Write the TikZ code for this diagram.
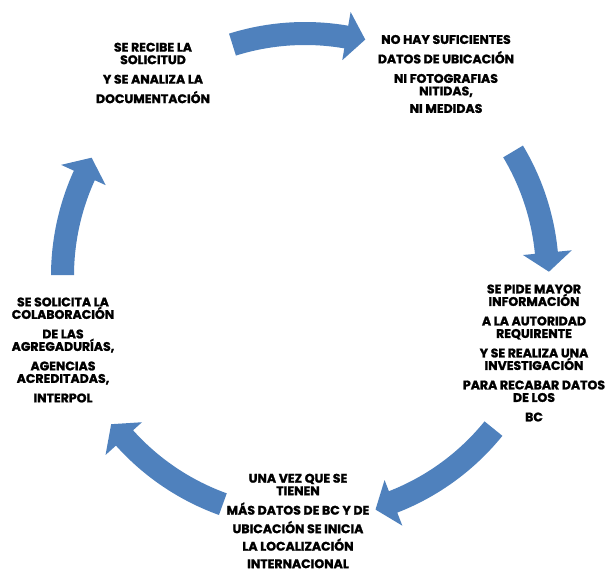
\documentclass[tikz,border=0pt]{standalone}
\usepackage{fontspec}
\setmainfont{Poppins}[BoldFeatures={FakeBold=1.5}]
\usepackage{tikz}
\usetikzlibrary{positioning}

\definecolor{cycblue}{HTML}{4F81BD}

% curved block arrow: tail angle, tip angle
\newcommand{\cycarrow}[2]{%
  \pgfmathsetmacro{\hb}{#2+4.5}%
  \fill[cycblue] (#1:254) arc[start angle=#1, end angle=\hb, radius=254pt]
    -- (\hb:268) -- (#2:244) -- (\hb:219) -- (\hb:231)
    arc[start angle=\hb, end angle=#1, radius=231pt] -- cycle;}

\begin{document}
\begin{tikzpicture}[
    x=1pt, y=1pt,
    lbl/.style={align=center, font=\bfseries\fontsize{12.5}{12.5}\selectfont}
]
\useasboundingbox (-305,-296) rectangle (303,276);

\cycarrow{107.4}{75.7}
\cycarrow{30.9}{1}
\cycarrow{-39}{-73.2}
\cycarrow{-109.8}{-142.6}
\cycarrow{179.8}{151}

\node[lbl] (recibe) at (-152,203)
    {SE RECIBE LA\\SOLICITUD\\[7pt]Y SE ANALIZA LA\\[7pt]DOCUMENTACIÓN};

\node[lbl] (nohay) at (141,202)
    {NO HAY SUFICIENTES\\[7pt]DATOS DE UBICACIÓN\\[7pt]NI FOTOGRAFIAS\\NITIDAS,\\[5pt]NI MEDIDAS};

\node[lbl] (pide) at (229,-77)
    {SE PIDE MAYOR\\INFORMACIÓN\\[7pt]A LA AUTORIDAD\\REQUIRENTE\\[7pt]Y SE REALIZA UNA\\INVESTIGACIÓN\\[7pt]PARA RECABAR DATOS\\DE LOS\\[7pt]BC};

\node[lbl] (unavez) at (-7,-245)
    {UNA VEZ QUE SE\\TIENEN\\[7pt]MÁS DATOS DE BC Y DE\\[6pt]UBICACIÓN SE INICIA\\[5pt]LA LOCALIZACIÓN\\[5pt]INTERNACIONAL};

\node[lbl] (solicita) at (-242,-74)
    {SE SOLICITA LA\\COLABORACIÓN\\[7pt]DE LAS\\AGREGADURÍAS,\\[7pt]AGENCIAS\\ACREDITADAS,\\[7pt]INTERPOL};

\end{tikzpicture}
\end{document}
